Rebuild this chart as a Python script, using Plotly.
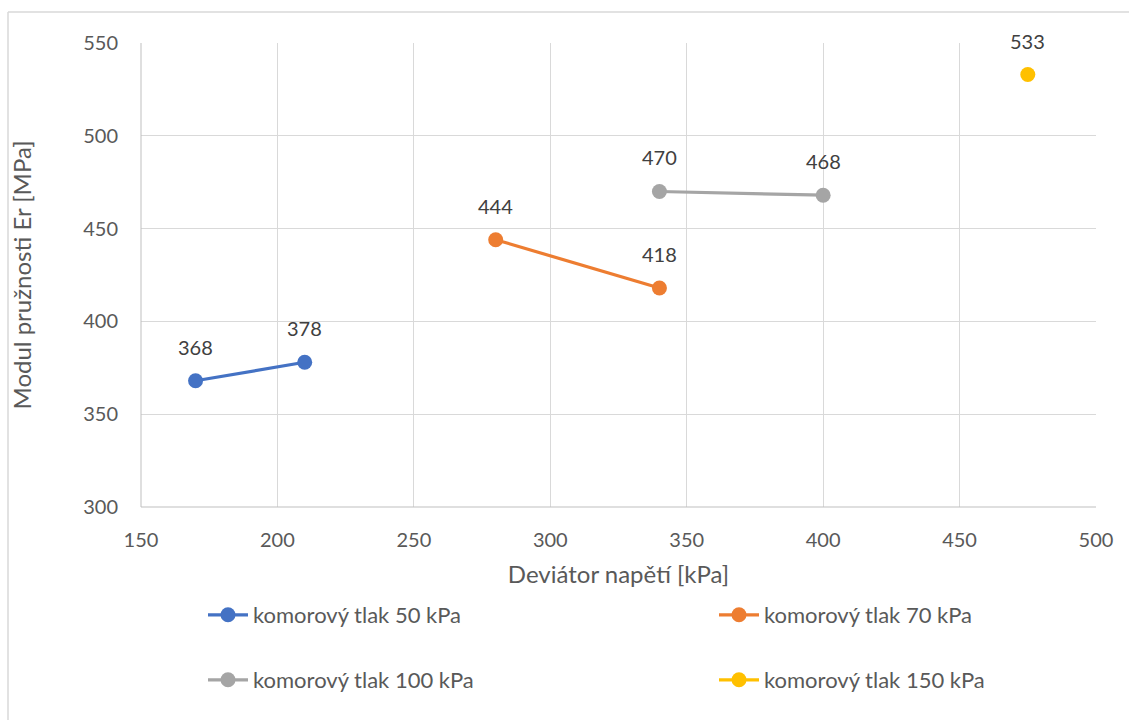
import plotly.graph_objects as go

# Series: deviator stress [kPa] vs. resilient modulus Er [MPa]
series_names = ["komorový tlak 50 kPa", "komorový tlak 70 kPa",
                "komorový tlak 100 kPa", "komorový tlak 150 kPa"]
x_50 = [170, 210]
y_50 = [368, 378]
x_70 = [280, 340]
y_70 = [444, 418]
x_100 = [340, 400]
y_100 = [470, 468]
x_150 = [475]
y_150 = [533]
colors = ["#4472C4", "#ED7D31", "#A5A5A5", "#FFC000"]

x_ticks = [150, 200, 250, 300, 350, 400, 450, 500]
y_ticks = [300, 350, 400, 450, 500, 550]

FONT = "Lato, 'Open Sans', sans-serif"
W, H = 1129, 720
L, R, T, B = 141, 33, 43, 213
PW, PH = W - L - R, H - T - B

# legend slots (left x of legend box, vertical centre in px)
legend_pos = [(203, 615), (714, 615), (203, 680), (714, 680)]

fig = go.Figure()
data = [(x_50, y_50), (x_70, y_70), (x_100, y_100), (x_150, y_150)]
for i, ((xs, ys), name, c) in enumerate(zip(data, series_names, colors)):
    fig.add_trace(go.Scatter(
        x=xs, y=ys, name=name, mode="lines+markers",
        line=dict(color=c, width=3.2),
        marker=dict(color=c, size=15),
        showlegend=True,
        legend="legend" if i == 0 else f"legend{i + 1}",
    ))
    for xv, yv in zip(xs, ys):
        fig.add_annotation(x=xv, y=yv, text=str(yv), showarrow=False,
                           yshift=34, font=dict(size=20, color="#404040", family=FONT))

axis_common = dict(showgrid=True, gridcolor="#D9D9D9", gridwidth=1,
                   zeroline=False, showline=False, ticks="", automargin=False,
                   tickfont=dict(size=20, color="#595959", family=FONT),
                   title_font=dict(size=24, color="#595959", family=FONT))

fig.update_xaxes(range=[150, 500], tickvals=x_ticks, ticklabelstandoff=19,
                 title_text="Deviátor napětí [kPa]", title_standoff=16, **axis_common)
fig.update_yaxes(range=[300, 550], tickvals=y_ticks, ticklabelstandoff=22,
                 title_text="Modul pružnosti Er [MPa]", title_standoff=44, **axis_common)

# Left and bottom axis lines in a slightly darker grey
fig.add_shape(type="line", xref="paper", yref="paper", x0=0, x1=0, y0=0, y1=1,
              line=dict(color="#BFBFBF", width=1))
fig.add_shape(type="line", xref="paper", yref="paper", x0=0, x1=1, y0=0, y1=0,
              line=dict(color="#BFBFBF", width=1))

# Chart-area frame (left and top edges)
fx = (8 - L) / PW
fy = 1 + (T - 12) / PH
fig.add_shape(type="line", xref="paper", yref="paper", x0=fx, x1=fx, y0=fy, y1=-(B + 5) / PH,
              line=dict(color="#D9D9D9", width=1.5))
fig.add_shape(type="line", xref="paper", yref="paper", x0=fx, x1=(W + 5 - L) / PW, y0=fy, y1=fy,
              line=dict(color="#D9D9D9", width=1.5))

legend_common = dict(orientation="h", xref="container", yref="container",
                     xanchor="left", yanchor="middle", visible=True,
                     font=dict(size=22, color="#595959", family=FONT),
                     bgcolor="rgba(0,0,0,0)", itemwidth=40)

legends = {}
for i, (lx, ly) in enumerate(legend_pos):
    key = "legend" if i == 0 else f"legend{i + 1}"
    legends[key] = dict(x=lx / W, y=1 - ly / H, **legend_common)

fig.update_layout(
    width=W, height=H,
    margin=dict(l=L, r=R, t=T, b=B, autoexpand=False),
    paper_bgcolor="white", plot_bgcolor="white",
    font=dict(family=FONT),
    showlegend=True,
    **legends,
)

fig.write_html("out.html")
